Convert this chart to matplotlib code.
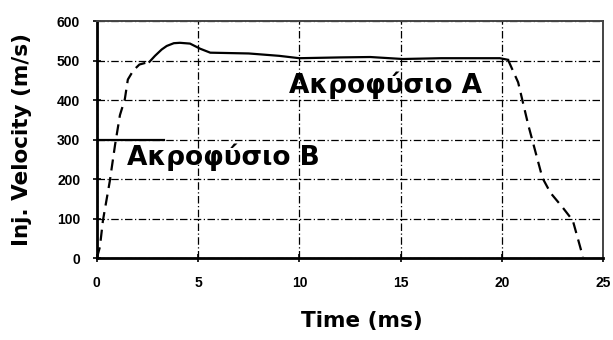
import matplotlib.pyplot as plt

plt.rcParams['font.family'] = ['Liberation Sans', 'DejaVu Sans']

# nozzle A: rising edge (dashed), plateau (solid), falling edge (dashed)
rise_t = [0.0, 0.15, 0.3, 0.64, 0.9, 1.14, 1.38, 1.53, 1.8, 2.1, 2.6]
rise_v = [0, 28, 95, 195, 287, 362, 402, 452, 475, 490, 497]

plateau_t = [2.6, 2.87, 3.2, 3.45, 3.8, 4.1, 4.6, 5.1, 5.6, 7.5, 9.0, 10.0, 12.0, 13.5, 15.1, 17.0, 19.9, 20.3]
plateau_v = [497, 512, 528, 537, 544, 545, 543, 530, 520, 518, 512, 506, 508, 509, 504, 506, 506, 502]

fall_t = [20.3, 20.8, 21.3, 22.0, 22.4, 23.0, 23.5, 24.0]
fall_v = [502, 445, 337, 203, 165, 128, 95, 3]

# nozzle B: short level segment
b_t = [0.0, 3.3]
b_v = [300, 300]

x_ticks = [0, 5, 10, 15, 20, 25]
y_ticks = [0, 100, 200, 300, 400, 500, 600]

fig = plt.figure(figsize=(6.13, 3.4), dpi=100)
ax = fig.add_axes([0.158, 0.241, 0.826, 0.697])

ax.plot(rise_t, rise_v, color='black', lw=1.6, ls=(0, (5, 3)))
ax.plot(plateau_t, plateau_v, color='black', lw=1.6)
ax.plot(fall_t, fall_v, color='black', lw=1.6, ls=(0, (5, 3)))
ax.plot(b_t, b_v, color='black', lw=1.6)

ax.set_xlim(0, 25)
ax.set_ylim(0, 600)
ax.set_xticks(x_ticks)
ax.set_yticks(y_ticks)
ax.grid(True, color='black', lw=0.9, ls=(0, (6, 2, 1, 2)))
ax.set_axisbelow(True)

for side in ['left', 'bottom']:
    ax.spines[side].set_linewidth(2)
for side in ['top', 'right']:
    ax.spines[side].set_linewidth(1.4)
    ax.spines[side].set_color('#444444')

ax.tick_params(direction='inout', length=6, width=1.2, labelsize=10)
ax.tick_params(axis='x', pad=10)
ax.tick_params(axis='y', pad=9)
for lbl in ax.get_xticklabels() + ax.get_yticklabels():
    lbl.set_fontweight('bold')

ax.set_xlabel('Time (ms)', fontsize=15.5, fontweight='bold', family='DejaVu Sans')
ax.xaxis.set_label_coords(0.524, -0.225)
ax.set_ylabel('Inj. Velocity (m/s)', fontsize=15.5, fontweight='bold', family='DejaVu Sans', labelpad=18)

ax.text(9.5, 438, 'Ακροφύσιο A', fontsize=19, fontweight='bold', family='DejaVu Sans',
        va='center', ha='left')
ax.text(1.5, 256, 'Ακροφύσιο B', fontsize=19, fontweight='bold', family='DejaVu Sans',
        va='center', ha='left')

fig.savefig('out.png', dpi=100)
